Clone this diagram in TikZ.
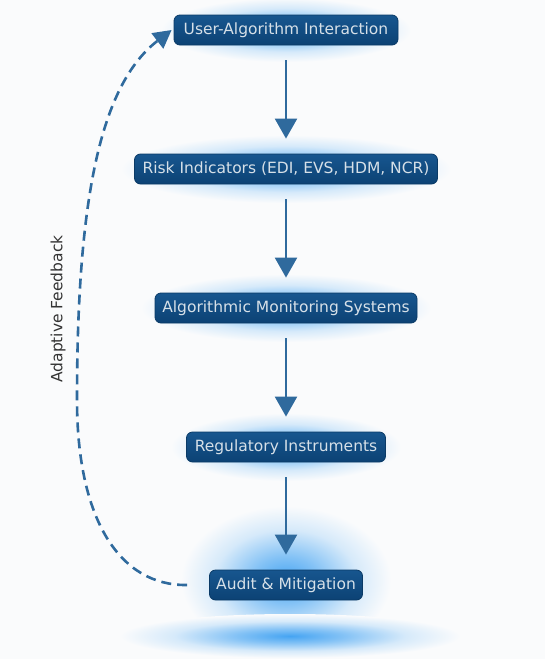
\documentclass[tikz,border=0pt]{standalone}
\usepackage{fontspec}
\setmainfont{DejaVu Sans}
\usetikzlibrary{arrows.meta}
\definecolor{bg}{HTML}{FAFBFC}
\definecolor{boxtop}{HTML}{17568F}
\definecolor{boxmid}{HTML}{1A6AAE}
\definecolor{boxbot}{HTML}{0C4274}
\definecolor{boxline}{HTML}{0A3A66}
\definecolor{arr}{HTML}{2F6A9D}
\definecolor{txt}{HTML}{D6E0E8}
\definecolor{glowc}{HTML}{45A4F2}
\definecolor{lbl}{HTML}{333333}
\pgfdeclareradialshading{glowshade}{\pgfpoint{0bp}{0bp}}{%
  color(0bp)=(glowc);
  color(8bp)=(glowc!65!bg);
  color(17bp)=(glowc!20!bg);
  color(25bp)=(bg);
  color(50bp)=(bg)}
\begin{document}
\begin{tikzpicture}[x=1pt,y=-1pt,
  stepbox/.style={rounded corners=6pt, top color=boxtop, middle color=boxmid,
    bottom color=boxbot, draw=boxline, line width=0.8pt, text=txt,
    font=\fontsize{15.5}{18}\selectfont, inner xsep=5pt, minimum height=30pt},
  glow/.style={shading=glowshade},
  flow/.style={-{Triangle[length=20pt,width=22pt]}, draw=arr, line width=2.4pt},
  feedback/.style={dash pattern=on 10pt off 6pt, draw=arr, line width=2.6pt,
    -{Triangle[length=18pt,width=19pt]}}
]
\useasboundingbox (0,0) rectangle (545,659);
\fill[bg] (0,0) rectangle (545,659);

% glows
\shade[glow] (286,30) ellipse (125 and 32);
\shade[glow] (286,169) ellipse (165 and 34);
\shade[glow] (286,308) ellipse (145 and 34);
\shade[glow] (286,447) ellipse (115 and 34);
\shade[glow] (286,580) ellipse (105 and 74);
\shade[glow] (290,636) ellipse (170 and 22);

% nodes
\node[stepbox, minimum width=224pt] (n1) at (286,30) {User-Algorithm Interaction};
\node[stepbox, minimum width=303pt] (n2) at (286,169) {Risk Indicators (EDI, EVS, HDM, NCR)};
\node[stepbox, minimum width=262pt] (n3) at (286,308) {Algorithmic Monitoring Systems};
\node[stepbox, minimum width=199pt] (n4) at (286,447) {Regulatory Instruments};
\node[stepbox, minimum width=153pt] (n5) at (286,585) {Audit \& Mitigation};

% flow arrows
\draw[flow] ([yshift=-15pt]n1.south) -- ([yshift=15pt]n2.north);
\draw[flow] ([yshift=-15pt]n2.south) -- ([yshift=15pt]n3.north);
\draw[flow] ([yshift=-15pt]n3.south) -- ([yshift=15pt]n4.north);
\draw[flow] ([yshift=-15pt]n4.south) -- ([yshift=15pt]n5.north);

% feedback
\coordinate (fbstart) at ([xshift=-22pt]n5.west);
\coordinate (fbend) at ([xshift=-2pt]n1.west);
\draw[feedback] (fbstart) .. controls (120,586) and (77,520) .. (77,400)
  .. controls (77,200) and (100,85) .. (fbend);
\node[rotate=90, text=lbl, font=\fontsize{15.5}{18}\selectfont] (fblabel) at (58,309) {Adaptive Feedback};
\end{tikzpicture}
\end{document}
